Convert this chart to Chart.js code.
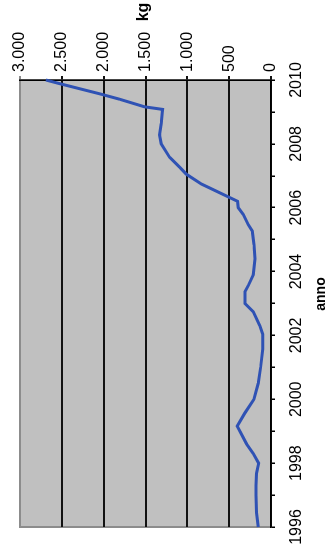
<!DOCTYPE html>
<html>
<head>
<meta charset="utf-8">
<script src="https://cdn.jsdelivr.net/npm/chart.js@4/dist/chart.umd.min.js"></script>
<style>
  html, body { margin: 0; padding: 0; background: #fff; }
  body { width: 333px; height: 558px; overflow: hidden; position: relative; }
  #wrap { position: absolute; left: 0; top: 558px; width: 558px; height: 333px;
          transform-origin: 0 0; transform: rotate(-90deg); }
</style>
</head>
<body>
<div id="wrap"><canvas id="c" width="558" height="333"></canvas></div>
<script>
// ---- data ----
const years = [1996.0, 1996.45, 1997.0, 1997.3, 1997.68, 1998.0, 1998.3, 1998.6, 1999.16, 1999.57,
               2000.0, 2000.5, 2001.0, 2001.57, 2002.04, 2002.3, 2002.74, 2003.0, 2003.37, 2003.56,
               2003.9, 2004.4, 2004.84, 2005.27, 2005.47, 2005.79, 2006.0, 2006.2, 2006.74,
               2007.05, 2007.27, 2007.58, 2008.0, 2008.28, 2008.64, 2008.98, 2009.08, 2009.16, 2009.4,
               2009.57, 2009.89, 2010.0, 2010.2];
const kg    = [152, 172, 180, 180, 172, 148, 212, 292, 405, 312,
               204, 152, 124, 100, 100, 132, 212, 312, 312, 272,
               212, 192, 204, 224, 272, 332, 392, 400, 830,
               1012, 1092, 1212, 1312, 1332, 1312, 1300, 1296, 1512, 1812,
               2052, 2532, 2690, 2700];
const kgTicks = [0, 500, 1000, 1500, 2000, 2500, 3000];
const yearLabels = [1996, 1998, 2000, 2002, 2004, 2006, 2008, 2010];
const xTitle = 'anno';
const yTitle = 'kg';

function fmt(v) {
  if (v >= 1000) return Math.floor(v / 1000) + '.' + String(v % 1000).padStart(3, '0');
  return String(v);
}

const plotBg = {
  id: 'plotBg',
  beforeDraw(chart) {
    const a = chart.chartArea, ctx = chart.ctx;
    ctx.save();
    ctx.fillStyle = '#c0c0c0';
    ctx.fillRect(a.left, a.top, a.right - a.left, a.bottom - a.top);
    ctx.strokeStyle = '#8c8c8c';
    ctx.lineWidth = 2;
    ctx.strokeRect(a.left, a.top, a.right - a.left, a.bottom - a.top);
    ctx.restore();
  },
  afterDraw(chart) {
    const ctx = chart.ctx, a = chart.chartArea;
    ctx.save();
    ctx.fillStyle = '#000';
    ctx.textAlign = 'center';
    ctx.textBaseline = 'middle';
    ctx.font = 'bold 16px "Liberation Sans", Arial, sans-serif';
    ctx.fillText(yTitle, 546, (a.top + a.bottom) / 2 - 2);
    ctx.font = 'bold 14px "Liberation Sans", Arial, sans-serif';
    ctx.fillText(xTitle, 264, 321);
    ctx.restore();
  }
};

new Chart(document.getElementById('c'), {
  type: 'line',
  data: {
    datasets: [{
      data: years.map((y, i) => ({ x: y, y: kg[i] })),
      borderColor: '#2f52b4',
      borderWidth: 3,
      pointRadius: 0,
      tension: 0,
      fill: false,
      clip: false
    }]
  },
  options: {
    responsive: false,
    animation: false,
    devicePixelRatio: 1,
    layout: { padding: { left: 31, top: 20, right: 0, bottom: 0 } },
    plugins: { legend: { display: false }, tooltip: { enabled: false } },
    scales: {
      x: {
        type: 'linear',
        position: 'bottom',
        min: 1996, max: 2010,
        afterFit(s) { s.height = 62; },
        afterBuildTicks(s) {
          const t = [];
          for (let v = 1996; v <= 2010; v++) t.push({ value: v });
          s.ticks = t;
        },
        ticks: {
          autoSkip: false, maxRotation: 0, minRotation: 0,
          color: '#000', padding: 12,
          font: { family: '"Liberation Sans", Arial, sans-serif', size: 16 },
          callback: v => yearLabels.includes(v) ? String(v) : ''
        },
        grid: { drawOnChartArea: false, drawTicks: true, tickLength: 4, color: '#000', lineWidth: 1.5 },
        border: { display: true, color: '#000', width: 1.5 }
      },
      y: {
        type: 'linear',
        position: 'right',
        min: 0, max: 3000,
        afterFit(s) { s.width = 80; },
        afterBuildTicks(s) { s.ticks = kgTicks.map(v => ({ value: v })); },
        ticks: {
          color: '#000', padding: 4,
          font: { family: '"Liberation Sans", Arial, sans-serif', size: 16 },
          callback: v => fmt(v)
        },
        grid: {
          drawOnChartArea: true, drawTicks: true, tickLength: 4,
          color: c => (c.tick && c.tick.value === 3000) ? '#8c8c8c' : '#111',
          lineWidth: 2
        },
        border: { display: true, color: '#000', width: 1.5 }
      }
    }
  },
  plugins: [plotBg]
});
</script>
</body>
</html>
